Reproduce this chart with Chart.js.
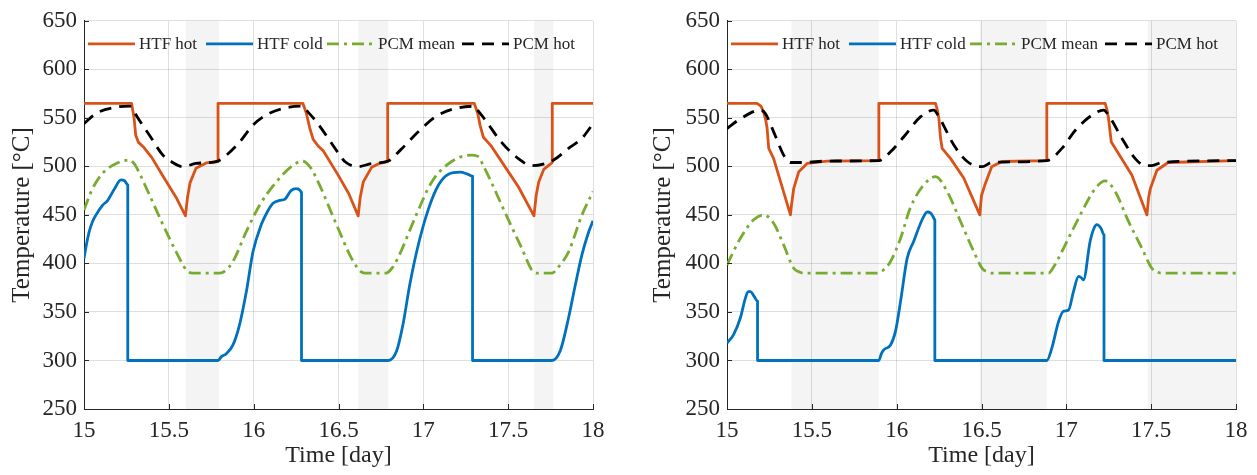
<!DOCTYPE html>
<html><head><meta charset="utf-8">
<script src="https://cdn.jsdelivr.net/npm/chart.js@4.4.0/dist/chart.umd.min.js"></script>
<style>
html,body{margin:0;padding:0;background:#fff;width:1257px;height:475px;overflow:hidden}
canvas{position:absolute;top:0}
#c1{left:0}
#c2{left:640px}
</style></head><body>
<canvas id="c1" width="628" height="475"></canvas>
<canvas id="c2" width="617" height="475"></canvas>
<script>
// ---------- data ----------
const SERIES_NAMES = ['HTF hot', 'HTF cold', 'PCM mean', 'PCM hot'];
const X_TICKS = [15, 15.5, 16, 16.5, 17, 17.5, 18];
const Y_TICKS = [250, 300, 350, 400, 450, 500, 550, 600, 650];

// left panel
const L_BANDS = [[15.6, 15.795], [16.616, 16.793], [17.652, 17.766]];
const L_HTF_HOT = [[15,565],[15.28,565],[15.295,550],[15.305,532],[15.32,525],[15.35,520],[15.40,509],[15.465,490],[15.543,468],[15.598,449],[15.61,468],[15.625,483],[15.66,498],[15.72,503.5],[15.79,505],[15.79,565],
 [16.29,565],[16.31,555],[16.33,540],[16.35,528],[16.38,521],[16.41,516],[16.498,491],[16.56,472],[16.616,449],[16.628,468],[16.646,484],[16.695,499],[16.74,503],[16.79,505],[16.79,565],
 [17.30,565],[17.32,555],[17.335,542],[17.354,530],[17.38,525],[17.40,521],[17.48,500],[17.56,479],[17.652,449],[17.665,470],[17.68,484],[17.71,497],[17.76,504],[17.76,565],[18,565]];
const L_HTF_COLD = [[15,405],[15.015,420],[15.031,433],[15.05,443],[15.071,450],[15.11,460],[15.14,465],[15.18,477],[15.218,486],[15.24,485],[15.258,481],[15.258,300],[15.79,300],[15.81,304],[15.839,307],[15.878,316],[15.917,337],[15.957,371],[15.996,412],[16.045,440],[16.08,453],[16.114,462],[16.154,465],[16.183,466],[16.22,475],[16.25,477],[16.275,475],[16.282,473],[16.282,300],[16.793,300],[16.843,310],[16.88,337],[16.92,378],[16.97,419],[17.03,456],[17.09,481],[17.148,492],[17.217,494],[17.26,492],[17.29,490],[17.29,300],[17.758,300],[17.807,310],[17.856,344],[17.896,378],[17.935,409],[17.97,430],[18,444]];
const L_PCM_MEAN = [[15,455],[15.05,477],[15.11,493],[15.19,503],[15.268,506.5],[15.29,504],[15.307,499.7],[15.386,470.5],[15.465,440],[15.543,412],[15.602,393.5],[15.64,390],[15.80,390],[15.83,392],[15.878,402],[15.957,433],[16.035,460],[16.134,484],[16.23,501],[16.29,505.5],[16.32,502],[16.35,494.5],[16.498,436],[16.576,405.5],[16.636,391],[16.66,390],[16.78,390],[16.81,394],[16.85,405.5],[16.95,446.6],[17.05,484],[17.167,505],[17.285,511.6],[17.325,510],[17.35,502],[17.4,484],[17.48,453],[17.58,415.7],[17.64,393],[17.67,390],[17.76,390],[17.79,395],[17.856,412],[17.935,450],[18,474]];
const L_PCM_HOT = [[15,544],[15.071,554.5],[15.19,561],[15.268,562],[15.285,560],[15.307,553],[15.386,532],[15.465,511.6],[15.514,505],[15.583,499.7],[15.66,503],[15.789,505.5],[15.84,511.6],[15.917,525],[15.996,542.5],[16.09,554.5],[16.21,561],[16.29,562],[16.31,558],[16.37,546],[16.498,514],[16.537,505],[16.616,499.7],[16.695,503],[16.793,505.5],[16.866,517],[16.97,535.6],[17.07,551],[17.187,559.6],[17.305,562],[17.32,558],[17.36,549],[17.46,525],[17.56,508],[17.64,500.7],[17.72,503],[17.768,506.5],[17.856,518.5],[17.935,529],[18,544]];

// right panel
const R_BANDS = [[15.38, 15.895], [16.49, 16.885], [17.479, 18]];
const R_HTF_HOT = [[15,565],[15.177,565],[15.2,562],[15.216,556],[15.228,548],[15.236,540],[15.246,518.5],[15.275,508],[15.374,450],[15.38,460],[15.393,477],[15.423,494.5],[15.472,503],[15.59,505.5],[15.895,506],[15.895,565],
 [16.229,565],[16.24,558],[16.249,549],[16.258,530],[16.268,518.5],[16.318,508],[16.396,487.7],[16.49,450],[16.5,470],[16.52,481],[16.56,499.7],[16.62,505],[16.885,506],[16.885,565],
 [17.229,565],[17.24,558],[17.249,549],[17.265,525],[17.308,513],[17.386,491],[17.475,450],[17.485,468],[17.495,477],[17.534,496],[17.6,504],[18,506]];
const R_HTF_COLD = [[15,318],[15.039,326.7],[15.079,344],[15.108,364],[15.125,371],[15.138,371],[15.16,366],[15.18,361],[15.18,300],[15.895,300],[15.91,307],[15.924,311],[15.964,316],[15.993,330],[16.023,361],[16.062,405.5],[16.1,422.6],[16.15,445],[16.18,453],[16.2,452],[16.215,448],[16.225,445],[16.225,300],[16.885,300],[16.915,313],[16.954,340],[16.983,350.7],[17.013,352],[17.042,371],[17.072,386.6],[17.09,385],[17.101,383],[17.14,422.6],[17.165,437],[17.18,440],[17.205,436],[17.222,429.5],[17.222,300],[18,300]];
const R_PCM_MEAN = [[15,398.6],[15.079,426],[15.157,445],[15.216,450],[15.275,441.4],[15.334,419],[15.393,395],[15.43,391],[15.452,390],[15.885,390],[15.92,393],[15.964,402],[16.023,426],[16.08,457],[16.16,481],[16.229,489.4],[16.298,474],[16.377,443],[16.455,412],[16.504,395],[16.54,391],[16.56,390],[16.895,390],[16.92,395],[16.954,405.5],[17.033,433],[17.092,453.4],[17.17,477],[17.229,485],[17.288,474],[17.367,443],[17.445,415.8],[17.504,395],[17.54,391],[17.563,390],[18,390]];
const R_PCM_HOT = [[15,539],[15.079,549],[15.197,558],[15.226,554.5],[15.275,535.6],[15.334,511.6],[15.374,504],[15.452,504],[15.59,505.5],[15.895,506],[15.964,515],[16.042,530.5],[16.14,551],[16.219,558],[16.249,551],[16.337,522],[16.416,505],[16.504,499.7],[16.56,504],[16.885,506],[16.974,518.5],[17.052,537],[17.15,552.7],[17.22,558],[17.249,552.7],[17.328,528.8],[17.406,508],[17.465,500.7],[17.504,500.7],[17.563,504],[18,506]];

// ---------- styling ----------
const FONT = "'Liberation Serif', 'Times New Roman', serif";
const TXT = '#262626';
const GRID = 'rgba(38,38,38,0.15)';
const COLORS = ['#D95319', '#0072BD', '#77AC30', '#000000'];
const DASHES = [[], [], [12, 5, 3, 5], [12, 8]];
const LEGEND_OFFSETS = [4, 122, 243, 378];

const toXY = arr => arr.map(([x, y]) => ({x, y}));

const panelPlugin = {
  id: 'panel',
  beforeDraw(chart, args, opts) {
    const {ctx, chartArea: a, scales: {x}} = chart;
    ctx.save();
    ctx.fillStyle = '#f4f4f4';
    for (const [s, e] of opts.bands) {
      const x0 = x.getPixelForValue(s), x1 = x.getPixelForValue(e);
      ctx.fillRect(x0, a.top, x1 - x0, a.bottom - a.top);
    }
    ctx.restore();
  },
  afterDraw(chart, args, opts) {
    const {ctx, chartArea: a, scales: {x, y}} = chart;
    ctx.save();
    // inward ticks
    ctx.strokeStyle = TXT; ctx.lineWidth = 1;
    ctx.beginPath();
    for (const v of X_TICKS) { const p = Math.round(x.getPixelForValue(v)) + 0.5; ctx.moveTo(p, a.bottom); ctx.lineTo(p, a.bottom - 5); }
    for (const v of Y_TICKS) { const p = Math.round(y.getPixelForValue(v)) + 0.5; ctx.moveTo(a.left, p); ctx.lineTo(a.left + 5, p); }
    ctx.stroke();
    // legend
    const ly = a.top + 23;
    chart.data.datasets.forEach((ds, i) => {
      const lx = a.left + LEGEND_OFFSETS[i];
      ctx.strokeStyle = ds.borderColor; ctx.lineWidth = ds.borderWidth;
      ctx.setLineDash(ds.borderDash || []);
      ctx.beginPath(); ctx.moveTo(lx, ly); ctx.lineTo(lx + 47, ly); ctx.stroke();
      ctx.setLineDash([]);
      ctx.fillStyle = TXT; ctx.font = '17px ' + FONT; ctx.textBaseline = 'middle'; ctx.textAlign = 'left';
      ctx.fillText(ds.label, lx + 51, ly + 1);
    });
    ctx.restore();
  }
};

function makeChart(id, series, bands, yWidth, rightPad, yTitlePad) {
  const datasets = series.map((s, i) => ({
    label: SERIES_NAMES[i],
    data: toXY(s),
    borderColor: COLORS[i],
    borderWidth: 2.8,
    borderDash: DASHES[i],
    pointRadius: 0,
    fill: false,
    order: 4 - i,
    tension: 0,
    cubicInterpolationMode: i === 0 ? 'default' : 'monotone',
    borderJoinStyle: 'round'
  }));
  return new Chart(document.getElementById(id), {
    type: 'line',
    data: {datasets},
    plugins: [panelPlugin],
    options: {
      responsive: false, animation: false, devicePixelRatio: 1,
      layout: {padding: {top: 19, right: rightPad, left: 0, bottom: 0}},
      plugins: {legend: {display: false}, tooltip: {enabled: false}, panel: {bands}},
      scales: {
        x: {
          type: 'linear', min: 15, max: 18,
          afterBuildTicks: s => { s.ticks = X_TICKS.map(v => ({value: v})); },
          afterFit: s => { s.height = 66; },
          grid: {color: GRID, drawTicks: false, lineWidth: 1},
          border: {color: TXT, width: 1},
          ticks: {color: TXT, font: {family: FONT, size: 23}, padding: 8, maxRotation: 0, callback: v => String(v)},
          title: {display: true, text: 'Time [day]', color: TXT, font: {family: FONT, size: 24}, padding: {top: 0, bottom: 5}}
        },
        y: {
          type: 'linear', min: 250, max: 650,
          afterBuildTicks: s => { s.ticks = Y_TICKS.map(v => ({value: v})); },
          afterFit: s => { s.width = yWidth; },
          grid: {color: GRID, drawTicks: false, lineWidth: 1},
          border: {color: TXT, width: 1},
          ticks: {color: TXT, font: {family: FONT, size: 23}, padding: 7, callback: v => String(v)},
          title: {display: true, text: 'Temperature [°C]', color: TXT, font: {family: FONT, size: 25}, padding: {top: yTitlePad, bottom: 0}}
        }
      }
    }
  });
}

makeChart('c1', [L_HTF_HOT, L_HTF_COLD, L_PCM_MEAN, L_PCM_HOT], L_BANDS, 84, 35, 7);
makeChart('c2', [R_HTF_HOT, R_HTF_COLD, R_PCM_MEAN, R_PCM_HOT], R_BANDS, 87, 21, 8);
</script>
</body></html>
